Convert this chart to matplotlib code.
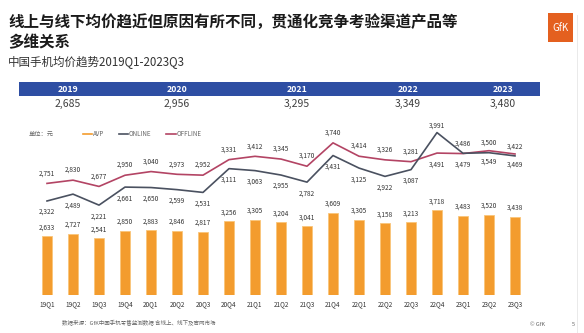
import matplotlib
matplotlib.use("Agg")
import matplotlib.pyplot as plt
from matplotlib.lines import Line2D
from matplotlib.patches import Rectangle
import numpy as np

plt.rcParams['font.family'] = ['Noto Sans CJK SC', 'DejaVu Sans']

quarters = ["19Q1", "19Q2", "19Q3", "19Q4", "20Q1", "20Q2", "20Q3", "20Q4",
            "21Q1", "21Q2", "21Q3", "21Q4", "22Q1", "22Q2", "22Q3", "22Q4",
            "23Q1", "23Q2", "23Q3"]
avp = [2633, 2727, 2541, 2850, 2883, 2846, 2817, 3256, 3305, 3204, 3041, 3609,
       3305, 3158, 3213, 3718, 3483, 3520, 3438]
online = [2322, 2489, 2221, 2661, 2650, 2599, 2531, 3111, 3063, 2955, 2782, 3431,
          3125, 2922, 3087, 3991, 3486, 3500, 3422]
offline = [2751, 2830, 2677, 2950, 3040, 2973, 2952, 3331, 3412, 3345, 3170, 3740,
           3414, 3326, 3281, 3491, 3479, 3549, 3469]
years = ["2019", "2020", "2021", "2022", "2023"]
year_avg = [2685, 2956, 3295, 3349, 3480]

W, H = 584, 333
fig = plt.figure(figsize=(W / 100, H / 100), dpi=100)
fig.patch.set_facecolor("white")


def P(x, y):
    return (x / W, 1 - y / H)


# Title
fig.text(*P(8, 22), "线上与线下均价趋近但原因有所不同，贯通化竞争考验渠道产品等",
         fontsize=11.2, fontweight="bold", color="#1a1a1a", va="center", ha="left")
fig.text(*P(8, 42), "多维关系", fontsize=11.2, fontweight="bold", color="#1a1a1a",
         va="center", ha="left")
fig.text(*P(8, 62), "中国手机均价趋势2019Q1-2023Q3", fontsize=8.3, color="#333333",
         va="center", ha="left")

# GfK logo
fig.patches.append(Rectangle(P(548, 42), 25 / W, 29 / H, transform=fig.transFigure,
                             facecolor="#E4601F", edgecolor="none"))
fig.text(*P(560.5, 28), "GfK", fontsize=7, color="white", ha="center", va="center")

# Year band
fig.patches.append(Rectangle(P(19, 96), (540 - 19) / W, 14 / H, transform=fig.transFigure,
                             facecolor="#2E4EA3", edgecolor="none"))
year_x = [68, 177, 297, 408, 503]
for yx, yr, val in zip(year_x, years, year_avg):
    fig.text(*P(yx, 89), yr, fontsize=6.3, fontweight="bold", color="white",
             ha="center", va="center")
    fig.text(*P(yx, 104), f"{val:,}", fontsize=7.5, color="#404040",
             ha="center", va="center")

# Legend
leg_color = "#666666"
fig.text(*P(29, 134), "单位：元", fontsize=4.5, color=leg_color, ha="left", va="center")
items = [(83, 92, "#F39C2E", "AVP"), (119, 128, "#4A5160", "ONLINE"),
         (166, 176, "#B34464", "OFFLINE")]
for x0, x1, c, lab in items:
    fig.lines.append(Line2D([x0 / W, x1 / W], [1 - 134 / H, 1 - 134 / H],
                            transform=fig.transFigure, color=c, lw=1.2))
    fig.text(*P(x1 + 1, 134), lab, fontsize=4.5, color=leg_color, ha="left", va="center")

# Chart
ax = fig.add_axes([21 / W, 1 - 295 / H, 520 / W, 175 / H])
x = np.arange(len(quarters))
ax.bar(x, avp, width=0.38, color="#F39C2E", edgecolor="#FAC57A", linewidth=0.6)
ax.set_xlim(-1, 19)
ax.set_ylim(170, 7470)
ax.set_yticks([])
ax.set_xticks(x)
ax.set_xticklabels(quarters, fontsize=4.6, color="#333333")
ax.tick_params(axis="x", length=0, pad=3.5)
for s in ax.spines.values():
    s.set_visible(False)
ax.patch.set_alpha(0)

lab_fs = 4.7
lab_c = "#333333"
for xi, v in zip(x, avp):
    ax.annotate(f"{v:,}", (xi, v), xytext=(0, 6.3), textcoords="offset points",
                ha="center", va="center", fontsize=lab_fs, color=lab_c)

ax2 = ax.twinx()
ax2.set_ylim(28, 4298)
ax2.set_yticks([])
for s in ax2.spines.values():
    s.set_visible(False)
ax2.plot(x, offline, color="#B34464", lw=1.2, solid_joinstyle="round")
ax2.plot(x, online, color="#4A5160", lw=1.2, solid_joinstyle="round")

for i, (xi, on, off) in enumerate(zip(x, online, offline)):
    crossed = i >= 15
    off_dy = -8 if crossed else 7.3
    on_dy = 5 if crossed else -8
    if i in (16, 17, 18):
        on_dy = 7
    ax2.annotate(f"{off:,}", (xi, off), xytext=(0, off_dy), textcoords="offset points",
                 ha="center", va="center", fontsize=lab_fs, color=lab_c)
    ax2.annotate(f"{on:,}", (xi, on), xytext=(0, on_dy), textcoords="offset points",
                 ha="center", va="center", fontsize=lab_fs, color=lab_c)

# Footer
fig.text(*P(62, 323), "数据来源：GfK中国手机零售监测数据 含线上、线下及官网市场",
         fontsize=4.0, color="#666666", ha="left", va="center")
fig.text(*P(530, 325), "© GfK", fontsize=4.0, color="#666666", ha="left", va="center")
fig.text(*P(573, 325), "5", fontsize=4.0, color="#666666", ha="center", va="center")
fig.lines.append(Line2D([577 / W, 577 / W], [0, 1 - 15 / H], transform=fig.transFigure,
                        color="#e6e6e6", lw=0.6))

fig.savefig("out.png", dpi=100, facecolor="white")
